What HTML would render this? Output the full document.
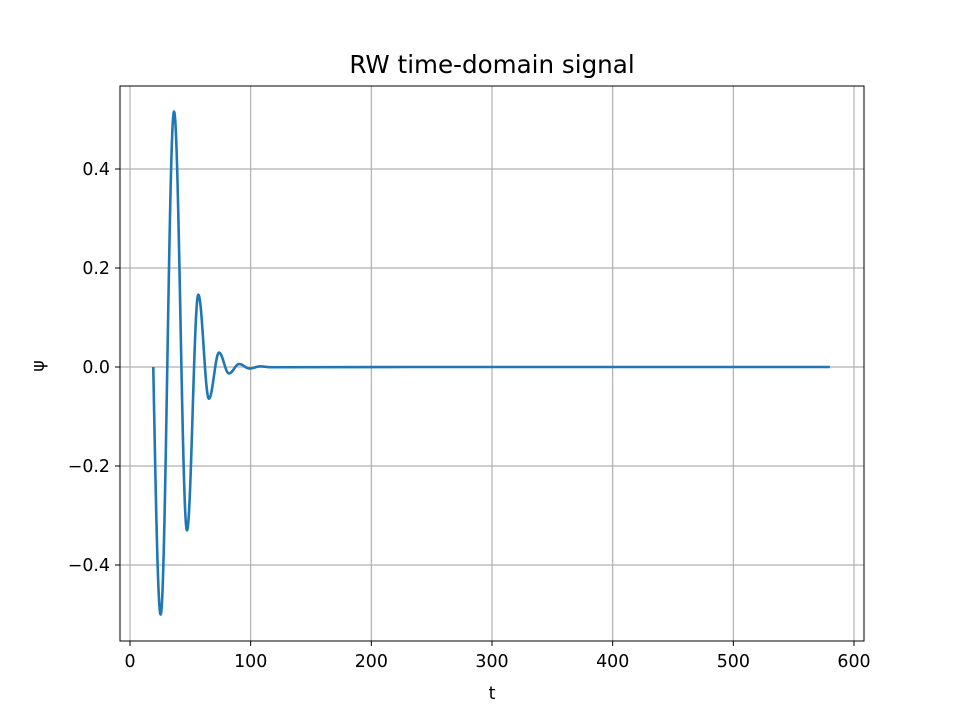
<!DOCTYPE html>
<html><head><meta charset="utf-8"><style>
body{margin:0;background:#fff}
svg text{font-family:"DejaVu Sans","Liberation Sans",sans-serif;fill:#000}
</style></head><body>
<svg id="chart" width="960" height="720" xmlns="http://www.w3.org/2000/svg">
<rect width="960" height="720" fill="#fff"/>
<g id="grid"></g>
<g id="ticks"></g>
<path id="line" fill="none" stroke="#1f77b4" stroke-width="2.6" stroke-linejoin="round"/>
<rect x="120" y="86" width="744" height="555" fill="none" stroke="#000" stroke-width="1"/>
<text x="492" y="73" font-size="24.6" text-anchor="middle">RW time-domain signal</text>
<text x="492" y="699" font-size="17.4" text-anchor="middle">t</text>
<text x="0" y="0" font-size="17.4" text-anchor="middle" transform="translate(44,366) rotate(-90)">ψ</text>
</svg>
<script>
const xTicks=[0,100,200,300,400,500,600];
const yTicks=[-0.4,-0.2,0.0,0.2,0.4];
const yTickLabels=["\u22120.4","\u22120.2","0.0","0.2","0.4"];
const extremaT=[19.3,25.4,36.5,47.2,56.6,65.4,73.8,82,90.5,99,108,117,580];
const extremaPsi=[0,-0.5,0.516,-0.33,0.146,-0.064,0.029,-0.013,0.006,-0.003,0.0012,-0.0005,0];
const X=t=>130+t*(854-130)/600;
const Y=v=>367-v*495;
const ns="http://www.w3.org/2000/svg";
const grid=document.getElementById('grid'),ticks=document.getElementById('ticks');
xTicks.forEach(t=>{
 const l=document.createElementNS(ns,'line');
 
 
 l.setAttribute('x1',X(t));l.setAttribute('x2',X(t));l.setAttribute('y1',86);l.setAttribute('y2',641);
 l.setAttribute('stroke','#b0b0b0');l.setAttribute('stroke-width','1.2');grid.appendChild(l);
 const k=document.createElementNS(ns,'line');
 
 
 k.setAttribute('x1',X(t));k.setAttribute('x2',X(t));k.setAttribute('y1',641);k.setAttribute('y2',646);
 k.setAttribute('stroke','#000');ticks.appendChild(k);
 const tx=document.createElementNS(ns,'text');
 
 
 tx.setAttribute('x',X(t));tx.setAttribute('y',667);tx.setAttribute('font-size','17.4');tx.setAttribute('text-anchor','middle');
 tx.textContent=t;ticks.appendChild(tx);
});
yTicks.forEach((v,i)=>{
 const l=document.createElementNS(ns,'line');
 
 
 l.setAttribute('x1',120);l.setAttribute('x2',864);l.setAttribute('y1',Y(v));l.setAttribute('y2',Y(v));
 l.setAttribute('stroke','#b0b0b0');l.setAttribute('stroke-width','1.2');grid.appendChild(l);
 const k=document.createElementNS(ns,'line');
 
 
 k.setAttribute('x1',115);k.setAttribute('x2',120);k.setAttribute('y1',Y(v));k.setAttribute('y2',Y(v));
 k.setAttribute('stroke','#000');ticks.appendChild(k);
 const tx=document.createElementNS(ns,'text');
 
 
 tx.setAttribute('x',110);tx.setAttribute('y',Y(v)+6);tx.setAttribute('font-size','17.4');tx.setAttribute('text-anchor','end');
 tx.textContent=yTickLabels[i];ticks.appendChild(tx);
});
let d='';
for(let i=0;i<extremaT.length-1;i++){
 const t0=extremaT[i],t1=extremaT[i+1],a=extremaPsi[i],b=extremaPsi[i+1];
 const n=i===extremaT.length-2?4:30;
 for(let j=(i===0?0:1);j<=n;j++){
  const f=j/n;let v;
  if(i===0) v=b*Math.sin(Math.PI/2*f);
  else if(i===extremaT.length-2) v=a*Math.cos(Math.PI/2*Math.min(1,f*20));
  else v=a+(b-a)*(1-Math.cos(Math.PI*f))/2;
  const t=t0+(t1-t0)*f;
  d+=(d?'L':'M')+X(t).toFixed(2)+','+Y(v).toFixed(2);
 }
}
document.getElementById('line').setAttribute('d',d);
</script>
</body></html>
